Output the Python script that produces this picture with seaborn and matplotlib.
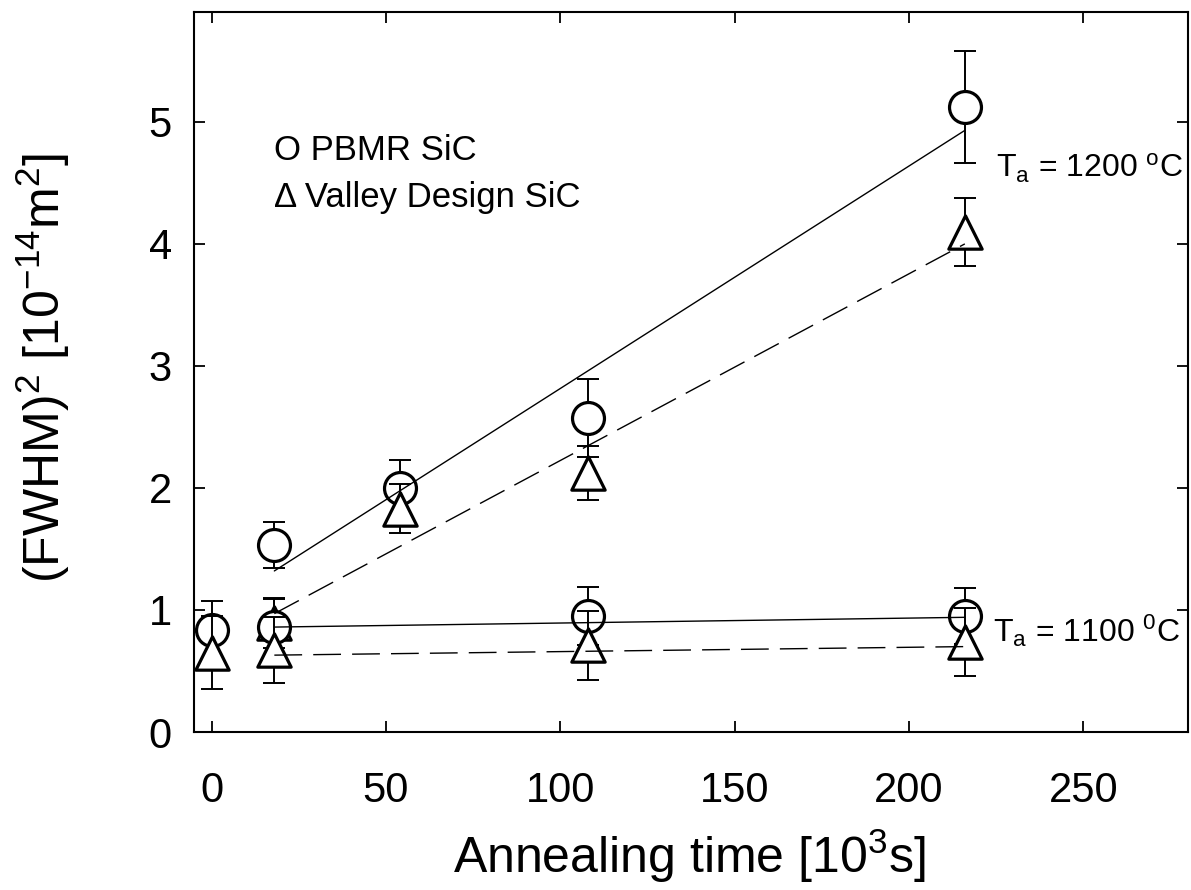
import numpy as np
import pandas as pd
import matplotlib
matplotlib.use("Agg")
import matplotlib.pyplot as plt
import seaborn as sns

# ---- data ----
t_1200 = [18, 54, 108, 216]
pbmr_1200 = [1.53, 2.00, 2.57, 5.12]
pbmr_1200_err = [0.19, 0.23, 0.32, 0.46]
valley_1200 = [0.89, 1.83, 2.12, 4.10]
valley_1200_err = [0.20, 0.20, 0.22, 0.28]

t_1100 = [0, 18, 108, 216]
pbmr_1100 = [0.84, 0.86, 0.95, 0.95]
pbmr_1100_err = [0.23, 0.24, 0.24, 0.23]
valley_1100 = [0.65, 0.67, 0.71, 0.74]
valley_1100_err = [0.30, 0.27, 0.28, 0.28]

# linear fits (end points)
fit_t = [18, 216]
fit_pbmr_1200 = [1.32, 4.93]
fit_valley_1200 = [0.97, 4.00]
fit_pbmr_1100 = [0.86, 0.94]
fit_valley_1100 = [0.63, 0.70]

x_ticks = [0, 50, 100, 150, 200, 250]
y_ticks = [0, 1, 2, 3, 4, 5]

sns.set_theme(style="ticks")
plt.rcParams['font.family'] = ['Liberation Sans', 'DejaVu Sans']
plt.rcParams['mathtext.fontset'] = 'custom'
plt.rcParams['mathtext.rm'] = 'Liberation Sans'
plt.rcParams['mathtext.it'] = 'Liberation Sans'
plt.rcParams['mathtext.default'] = 'regular'
plt.rcParams['text.color'] = 'black'
plt.rcParams['axes.labelcolor'] = 'black'

fig = plt.figure(figsize=(11.91, 8.90), dpi=100)
ax = fig.add_axes([0.163, 0.1775, 0.8345, 0.809])

series = [
    (t_1200, pbmr_1200, pbmr_1200_err, 'o', 23),
    (t_1200, valley_1200, valley_1200_err, '^', 24),
    (t_1100, pbmr_1100, pbmr_1100_err, 'o', 23),
    (t_1100, valley_1100, valley_1100_err, '^', 24),
]

z = 2
for t, y, e, m, ms in series:
    ax.errorbar(t, y, yerr=e, fmt='none', ecolor='black', elinewidth=1.4,
                capsize=8, capthick=1.4, zorder=z)
    df = pd.DataFrame({'t': t, 'y': y})
    sns.scatterplot(data=df, x='t', y='y', marker=m, s=ms ** 2, color='white',
                    edgecolor='black', linewidth=2.3, ax=ax, zorder=z + 0.5,
                    legend=False)
    z += 1

fits = pd.DataFrame({
    't': fit_t * 4,
    'y': fit_pbmr_1200 + fit_valley_1200 + fit_pbmr_1100 + fit_valley_1100,
    'set': ['p1200'] * 2 + ['v1200'] * 2 + ['p1100'] * 2 + ['v1100'] * 2,
})
for name, ls in [('p1200', '-'), ('v1200', '--'), ('p1100', '-'), ('v1100', '--')]:
    sub = fits[fits['set'] == name]
    sns.lineplot(data=sub, x='t', y='y', color='black', linewidth=1.0,
                 ax=ax, zorder=10, legend=False)
    if ls == '--':
        ax.lines[-1].set_dashes((20, 8))

ax.set_xlim(-5, 280)
ax.set_ylim(0, 5.9)
ax.set_xticks(x_ticks)
ax.set_yticks(y_ticks)
ax.tick_params(direction='in', length=8, width=1.3, top=True, right=True,
               labelsize=30, colors='black')
ax.tick_params(axis='x', pad=28)
ax.tick_params(axis='y', pad=16)
for sp in ax.spines.values():
    sp.set_visible(True)
    sp.set_linewidth(1.5)
    sp.set_color('black')

ax.set_xlabel(r'Annealing time [10$^3$s]', fontsize=36)
ax.xaxis.label.set_va('baseline')
ax.set_ylabel(r'(FWHM)$^2$ [10$^{-14}$m$^2$]', fontsize=36)
ax.xaxis.set_label_coords(0.498, -0.196)
ax.yaxis.set_label_coords(-0.123, 0.505)

ax.text(18, 4.69, 'O PBMR SiC', fontsize=25, va='baseline')
ax.text(18, 4.30, '\u0394 Valley Design SiC', fontsize=25, va='baseline')
ax.text(225, 4.54, r'T$_a$ = 1200 $^o$C', fontsize=23, va='baseline')
ax.text(224, 0.74, r'T$_a$ = 1100 $^0$C', fontsize=23, va='baseline')

fig.savefig('out.png', dpi=100, facecolor='white')
